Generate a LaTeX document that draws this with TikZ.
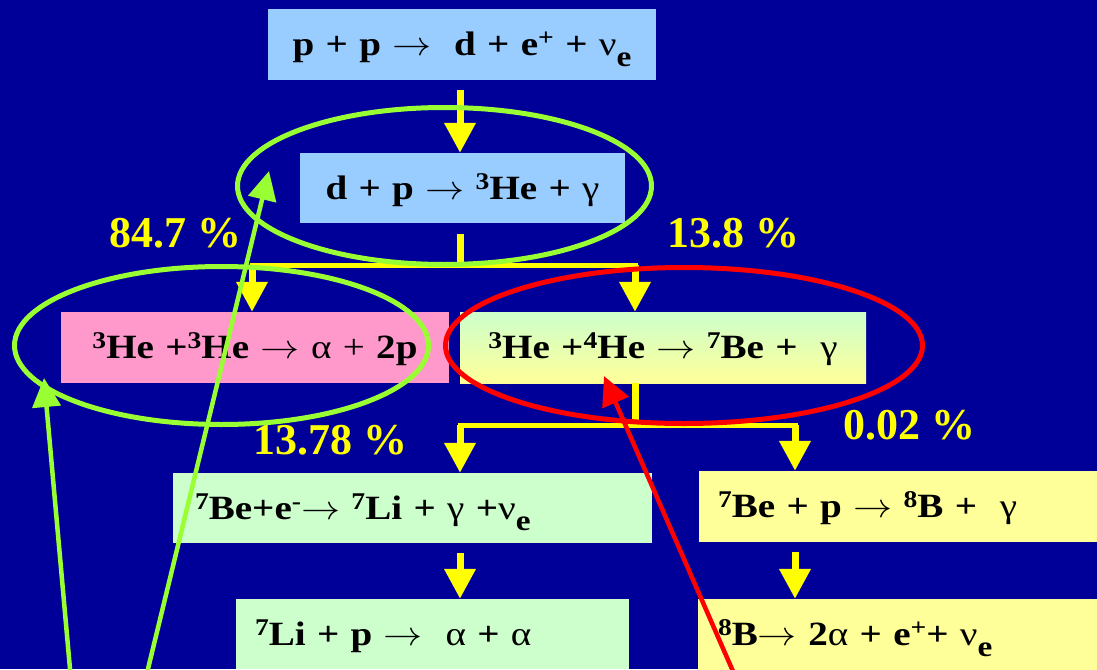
\documentclass[tikz,border=0pt]{standalone}
\usepackage{fix-cm}
\usepackage{fontspec}
\setmainfont{Liberation Serif}
\newfontfamily\eqfont[FakeStretch=1.15]{Liberation Serif}
\usetikzlibrary{arrows.meta,shapes.geometric}
\definecolor{bg}{HTML}{000099}
\definecolor{lblue}{HTML}{99CCFF}
\definecolor{lpink}{HTML}{FF99CC}
\definecolor{lgreen}{HTML}{CCFFCC}
\definecolor{lyellow}{HTML}{FFFF99}
\definecolor{yel}{HTML}{FFFF00}
\definecolor{grn}{HTML}{99FF33}
\definecolor{rd}{HTML}{FF0000}
\newcommand\myup[1]{\raisebox{10pt}{\fontsize{24}{24}\selectfont #1}}
\newcommand\mydn[1]{\raisebox{-11pt}{\fontsize{29}{29}\selectfont #1}}
\newcommand\gr[1]{{\mdseries #1}}
\newcommand\arr{\scalebox{1.15}[1]{$\rightarrow$}}
\tikzset{
  eqbox/.style={rectangle, inner ysep=0pt, inner xsep=20pt, text height=28pt, text depth=6pt,
    minimum height=71pt, font=\eqfont\fontsize{34}{36}\selectfont\bfseries, text=black},
  pct/.style={font=\fontsize{44}{48}\selectfont\bfseries, text=yel, inner sep=0pt},
  yshaft/.style={draw=yel, line width=7pt},
  yarrow/.style={yshaft, -{Triangle[length=30pt,width=30pt]}},
  yline/.style={draw=yel, line width=5pt, line cap=rect},
  ring/.style={ellipse, line width=5pt, inner sep=0pt},
  garrow/.style={draw=grn, line width=4.5pt, -{Triangle[length=29pt,width=28pt]}},
  rarrow/.style={draw=rd, line width=4.5pt, -{Triangle[length=29pt,width=28pt]}}
}
\begin{document}
\begin{tikzpicture}[x=1pt,y=-1pt]
\useasboundingbox (0,0) rectangle (1097,669);
\clip (0,0) rectangle (1097,669);
\fill[bg] (0,0) rectangle (1097,669);

% boxes
\node[eqbox, fill=lblue, text width=348pt, align=center] (top) at (462,44.5)
  {p + p \arr\ \ d + e\myup{+} + \gr{ν}\mydn{e}};
\node[eqbox, fill=lblue, text width=285pt, align=center, minimum height=70pt] (dp) at (462.5,188)
  {d + p \arr\ \myup{3}He + \gr{γ}};
\node[eqbox, fill=lpink, text width=348pt, align=center] (pp) at (255,347.5)
  {\myup{3}He +\myup{3}He \arr\ \gr{α + }2p};
\node[eqbox, top color=lgreen, bottom color=lyellow, text width=366pt, align=center] (he) at (663,347.5)
  {\myup{3}He +\myup{4}He \arr\ \myup{7}Be + \ \gr{γ}};
\node[eqbox, fill=lgreen, inner xsep=22pt, text width=435pt, align=left, minimum height=70pt] (bee) at (412.5,508)
  {\myup{7}Be+e\myup{-}\arr\ \myup{7}Li + \gr{γ} +\gr{ν}\mydn{e}};
\node[eqbox, fill=lyellow, inner xsep=19pt, text width=363pt, align=left] (bep) at (899.5,506.5)
  {\myup{7}Be + p \arr\ \myup{8}B + \ \gr{γ}};
\node[eqbox, fill=lgreen, inner xsep=19pt, text width=355pt, align=left, minimum height=70pt] (li) at (432.5,634)
  {\myup{7}Li + p \arr\ \ \gr{α} + \gr{α}};
\node[eqbox, fill=lyellow, inner xsep=20pt, text width=362pt, align=left] (b8) at (899,634.5)
  {\myup{8}B\arr\ 2\gr{α} + e\myup{+}+ \gr{ν}\mydn{e}};

% yellow flow
\coordinate (cA) at (460,0);
\coordinate (cB) at (252,0);
\coordinate (cC) at (635,0);
\coordinate (cD) at (795,0);
\coordinate (j1) at (460,265);
\coordinate (j2) at (635,425);
\draw[yarrow, shorten <=10pt] (top.south -| cA) -- (dp.north -| cA);
\draw[yshaft, shorten <=11pt] (dp.south -| cA) -- (j1);
\draw[yline] (cB |- j1) -- (cC |- j1);
\draw[yarrow] (cB |- j1) -- (pp.north -| cB);
\draw[yarrow] (cC |- j1) -- (he.north -| cC);
\draw[yshaft] (he.south -| cC) -- (j2);
\draw[yline] (cA |- j2) -- (cD |- j2);
\draw[yarrow] (cA |- j2) -- (bee.north -| cA);
\draw[yarrow] (cD |- j2) -- (bep.north -| cD);
\draw[yarrow, shorten <=10pt] (bee.south -| cA) -- (li.north -| cA);
\draw[yarrow, shorten <=10pt] (bep.south -| cD) -- (b8.north -| cD);

% percentages
\node[pct] (p1) at (175,233) {84.7 \%};
\node[pct] (p2) at (733,233) {13.8 \%};
\node[pct] (p3) at (330,440) {13.78 \%};
\node[pct] (p4) at (909,425) {0.02 \%};

% rings
\node[ring, draw=grn, minimum width=414pt, minimum height=157pt] (e1) at (444.5,186) {};
\node[ring, draw=grn, minimum width=414pt, minimum height=158pt] (e2) at (221.5,345.5) {};
\node[ring, draw=rd, minimum width=477pt, minimum height=156pt] (e3) at (684,345.5) {};

% pointers
\coordinate (g1a) at (145.3,680);
\coordinate (g1b) at (269,171);
\coordinate (g2a) at (71,680);
\coordinate (g2b) at (44,378);
\coordinate (r1a) at (736.8,680);
\coordinate (r1b) at (604,376);
\draw[garrow] (g1a) -- (g1b);
\draw[garrow] (g2a) -- (g2b);
\draw[rarrow] (r1a) -- (r1b);
\end{tikzpicture}
\end{document}
